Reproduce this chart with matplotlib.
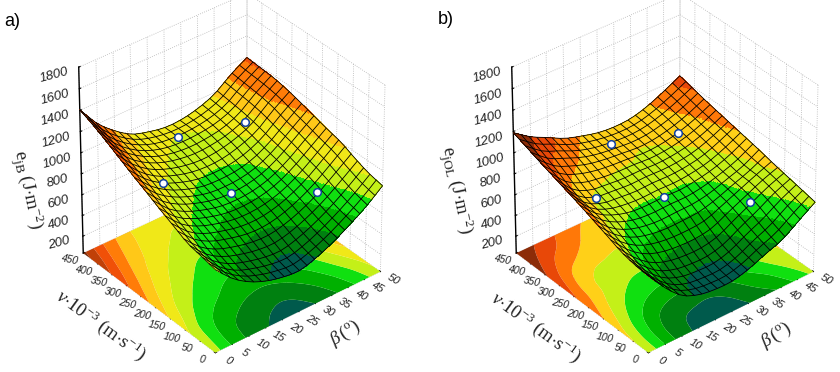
import numpy as np
import matplotlib
matplotlib.use("Agg")
import matplotlib.pyplot as plt
from mpl_toolkits.mplot3d import proj3d

plt.rcParams['font.family'] = ['Liberation Sans', 'DejaVu Sans']
plt.rcParams['mathtext.fontset'] = 'custom'
plt.rcParams['mathtext.rm'] = 'Liberation Serif'
plt.rcParams['mathtext.it'] = 'Liberation Serif:italic'
plt.rcParams['mathtext.bf'] = 'Liberation Serif:bold'

beta_grid = [0, 5, 10, 15, 20, 25, 30, 35, 40, 45, 50]
v_grid = [0, 45, 90, 135, 180, 225, 270, 315, 360, 405, 450]
beta_ticks = [0, 5, 10, 15, 20, 25, 30, 35, 40, 45, 50]
v_ticks = [0, 50, 100, 150, 200, 250, 300, 350, 400, 450]
z_ticks = [200, 400, 600, 800, 1000, 1200, 1400, 1600, 1800]

e_jB = [
    [825, 665, 555, 485, 445, 430, 475, 545, 635, 735, 860],
    [855, 688, 581, 523, 484, 470, 512, 581, 668, 771, 890],
    [883, 727, 633, 579, 544, 535, 569, 631, 716, 825, 940],
    [947, 793, 701, 650, 613, 604, 629, 685, 768, 880, 1000],
    [1010, 853, 763, 706, 669, 661, 678, 725, 809, 920, 1035],
    [1079, 919, 821, 758, 716, 705, 719, 765, 850, 965, 1075],
    [1144, 985, 878, 809, 763, 752, 761, 801, 883, 1000, 1115],
    [1215, 1046, 930, 862, 818, 800, 811, 853, 920, 1045, 1150],
    [1285, 1101, 982, 904, 863, 845, 854, 883, 950, 1070, 1175],
    [1350, 1155, 1023, 937, 889, 875, 881, 908, 969, 1085, 1185],
    [1405, 1205, 1065, 960, 910, 880, 885, 920, 985, 1100, 1195],
]
e_jOL = [
    [765, 575, 425, 355, 330, 330, 370, 435, 495, 600, 705],
    [778, 590, 448, 378, 357, 355, 400, 480, 550, 650, 735],
    [808, 632, 501, 435, 411, 410, 450, 535, 615, 700, 765],
    [860, 695, 585, 530, 508, 505, 525, 595, 665, 735, 795],
    [910, 755, 660, 613, 595, 600, 605, 635, 690, 745, 830],
    [960, 805, 720, 675, 665, 670, 665, 685, 720, 780, 860],
    [1005, 830, 750, 730, 715, 720, 715, 725, 755, 815, 890],
    [1050, 880, 800, 775, 760, 760, 750, 760, 790, 845, 920],
    [1095, 955, 880, 830, 805, 790, 775, 785, 820, 875, 950],
    [1143, 1020, 950, 880, 835, 813, 800, 810, 850, 910, 985],
    [1190, 1080, 1000, 920, 870, 830, 815, 825, 870, 940, 1020],
]
pts_beta = [25, 25, 40, 40, 10]
pts_v = [225, 405, 105, 345, 285]
pts_a = [705, 875, 735, 925, 895]
pts_b = [668, 815, 640, 815, 760]

levels_a = [475, 575, 675, 775, 875, 975, 1075, 1175, 1275, 1375]
colors_a = ['#005a4c', '#008010', '#00b000', '#10e010', '#c4f018', '#f0e818',
            '#ffc818', '#ff7c08', '#f05008', '#c04008', '#7c2804']
levels_b = [375, 475, 575, 675, 775, 875, 975, 1075]
colors_b = ['#005a4c', '#008010', '#00b000', '#10e010', '#c4f018', '#ffd018',
            '#ff7808', '#e84808', '#8c2c08']


def catmull(arr, n, axis):
    arr = np.moveaxis(np.asarray(arr, float), axis, 0)
    m = arr.shape[0]
    ext = np.concatenate([[2*arr[0]-arr[1]], arr, [2*arr[-1]-arr[-2]]])
    u = np.linspace(0, m-1, n)
    i = np.minimum(u.astype(int), m-2)
    t = u-i
    t = t.reshape((-1,)+(1,)*(arr.ndim-1))
    p0, p1, p2, p3 = ext[i], ext[i+1], ext[i+2], ext[i+3]
    out = 0.5*(2*p1+(p2-p0)*t+(2*p0-5*p1+4*p2-p3)*t**2+(3*p1-p0-3*p2+p3)*t**3)
    return np.moveaxis(out, 0, axis)


def panel(pos, Z, levels, colors, pz, zoom):
    ax = fig.add_axes(pos, projection='3d', computed_zorder=False)
    ax.patch.set_alpha(0)
    ax.set_proj_type('persp', focal_length=2)
    ax.view_init(elev=35, azim=-129)
    ax.set_box_aspect((1, 1, 1.06), zoom=zoom)
    ax.set_xlim(0, 50, view_margin=0)
    ax.set_ylim(0, 450, view_margin=0)
    ax.set_zlim(35, 1800, view_margin=0)

    n = 177
    zf = catmull(catmull(Z, n, 0), n, 1)
    xf = np.linspace(0, 50, n)
    yf = np.linspace(0, 450, n)
    X, Y = np.meshgrid(xf, yf)
    bounds = [-1e4]+list(levels)+[1e4]
    ax.contourf(X, Y, zf, levels=bounds, colors=colors, zdir='z', offset=35, zorder=1, antialiased=True)

    zc = 0.25*(zf[:-1, :-1]+zf[1:, :-1]+zf[:-1, 1:]+zf[1:, 1:])
    idx = np.digitize(zc, levels)
    rgba = np.array([matplotlib.colors.to_rgba(c) for c in colors])
    fc = rgba[idx]
    ax.plot_surface(X, Y, np.clip(zf, 35, 1800), facecolors=fc, rstride=1, cstride=1, shade=False,
                    linewidth=0, antialiased=False, zorder=2)
    s = 8
    ax.plot_wireframe(X[::s, ::s], Y[::s, ::s], zf[::s, ::s], rstride=1, cstride=1,
                      color='black', linewidth=0.6, zorder=3)
    ax.plot(pts_beta, pts_v, pz, ls='none', marker='o', ms=5.5, mfc='white', mec='#1040a0', mew=1.1, zorder=4)

    ax.set_xticks(beta_ticks)
    ax.set_yticks(v_ticks)
    ax.set_zticks(z_ticks)
    ax.set_xticklabels([])
    ax.set_yticklabels([])
    for a in (ax.xaxis, ax.yaxis, ax.zaxis):
        a.set_pane_color((1, 1, 1, 0))
        a.pane.set_edgecolor('#b0b0b0')
        a.pane.set_linestyle(':')
        a.pane.set_linewidth(0.6)
        a._axinfo['grid'].update(color='#b4b4b4', linestyle=':', linewidth=0.6)
        a._axinfo['tick'].update(inward_factor=0.0, outward_factor=0.1)
        a.line.set_linewidth(0)
    for lab in ax.zaxis.get_ticklabels():
        lab.set_fontstyle('italic')
    ax.zaxis.line.set_linewidth(1.0)
    ax.zaxis.line.set_color('black')
    ax.tick_params(axis='x', width=0.5)
    ax.tick_params(axis='y', width=0.5)
    ax.tick_params(axis='z', labelsize=9.5, labelrotation=15, pad=4, width=0.7, labelcolor='#222222')
    return ax


def floor_labels(ax):
    fig.canvas.draw()
    M = ax.get_proj()
    tk = dict(fontstyle='italic', color='#222222', ha='center', va='center')

    def put(x, y, s, rot, size):
        px, py, _ = proj3d.proj_transform(x, y, 35, M)
        dx, dy = ax.transData.transform((px, py))
        fig.text(dx/fig.bbox.width, dy/fig.bbox.height, s, rotation=rot, fontsize=size, **tk)
    for b in beta_ticks:
        put(b+0.3, -40, str(b), -30, 8)
    for v in v_ticks:
        put(-4.2, v-2, str(v), -12, 7.5)


fig = plt.figure(figsize=(8.4, 3.72), dpi=100)
W, H = 840, 372


def box(cx, cy, size):
    return [(cx-size/2)/W, 1-(cy+size/2)/H, size/W, size/H]


axa = panel(box(226, 176, 400), e_jB, levels_a, colors_a, pts_a, 0.92)
axb = panel(box(659, 176, 400), e_jOL, levels_b, colors_b, pts_b, 0.92)
floor_labels(axa)
floor_labels(axb)


def t(x, y, s, **k):
    fig.text(x/W, 1-y/H, s, ha='center', va='center', **k)


t(12, 21, 'a)', fontsize=13)
t(446, 19, 'b)', fontsize=13)
serif = dict(color='#222222', fontsize=13.5)
t(27, 190, r'$\mathrm{e_{jB}}\ \mathrm{(J{\cdot}m^{-2})}$', rotation=-78, **serif)
t(101, 325, r'$\mathit{v}{\cdot}\mathrm{10^{-3}\ (m{\cdot}s^{-1})}$', rotation=-36, **serif)
t(345, 333, r'$\mathit{\beta}\,\mathrm{(^{o})}$', rotation=32, **serif)
t(456, 190, r'$\mathrm{e_{jOL}}\ \mathrm{(J{\cdot}m^{-2})}$', rotation=-78, **serif)
t(536, 327, r'$\mathit{v}{\cdot}\mathrm{10^{-3}\ (m{\cdot}s^{-1})}$', rotation=-36, **serif)
t(776, 335, r'$\mathit{\beta}\,\mathrm{(^{o})}$', rotation=32, **serif)

fig.savefig('out.png', dpi=100)
